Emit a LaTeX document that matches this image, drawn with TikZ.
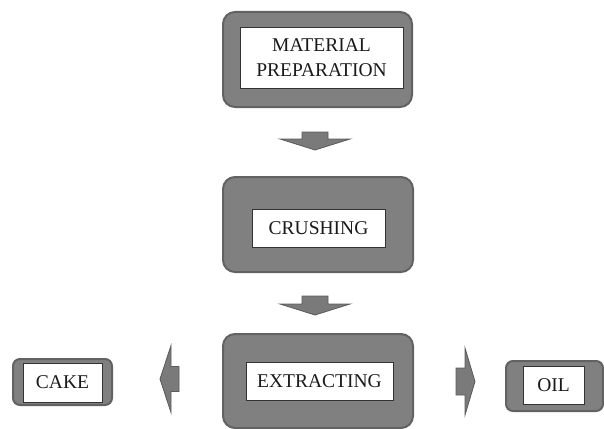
\documentclass[tikz,border=0pt]{standalone}
\usepackage{fontspec}
\setmainfont{Liberation Serif}
\usetikzlibrary{calc}
\definecolor{boxgray}{HTML}{808080}
\definecolor{boxedge}{HTML}{626262}
\definecolor{arrgray}{HTML}{7A7A7A}
\definecolor{arredge}{HTML}{5A5A5A}
\definecolor{txt}{HTML}{1A1A1A}
\begin{document}
\begin{tikzpicture}[x=1pt,y=-1pt,
  outerbox/.style={draw=boxedge, fill=boxgray, line width=2pt, rounded corners=12pt, inner sep=0pt},
  smallouter/.style={draw=boxedge, fill=boxgray, line width=2pt, rounded corners=7pt, inner sep=0pt},
  innerbox/.style={draw=black!80, fill=white, line width=0.8pt, inner sep=0pt, align=center,
    font=\fontsize{19.5}{24.5}\selectfont, text=txt},
  blockarrow/.style={fill=arrgray, draw=arredge, line width=0.8pt, line join=miter}]
\useasboundingbox (0,0) rectangle (604,428);
% outer boxes
\node[outerbox, minimum width=189pt, minimum height=95pt] (prepo) at (317.5,59.5) {};
\node[outerbox, minimum width=190pt, minimum height=95pt] (crusho) at (318,224.5) {};
\node[outerbox, minimum width=190pt, minimum height=94pt] (extro) at (318,381) {};
\node[smallouter, minimum width=99pt, minimum height=46pt] (cakeo) at (62.5,382) {};
\node[smallouter, minimum width=97pt, minimum height=50pt] (oilo) at (554.5,386) {};
% inner boxes
\node[innerbox, minimum width=163pt, minimum height=61pt] (prep) at (321.5,57.5) {MATERIAL\\PREPARATION};
\node[innerbox, minimum width=133pt, minimum height=38pt] (crush) at (318.5,228) {CRUSHING};
\node[innerbox, minimum width=147pt, minimum height=38pt] (extr) at (319.5,381) {EXTRACTING};
\node[innerbox, minimum width=79pt, minimum height=39pt] (cake) at (62.5,382.5) {CAKE};
\node[innerbox, minimum width=61pt, minimum height=38pt] (oil) at (553.5,385) {OIL};
% block arrows
\coordinate (a1) at (315,139);
\coordinate (a2) at (315,304);
\coordinate (a3) at (171,379);
\coordinate (a4) at (465,381.5);
\draw[blockarrow] ($(a1)+(-13,-7)$) -- ($(a1)+(13,-7)$) -- ($(a1)+(13,0)$) -- ($(a1)+(35,0)$)
  -- ($(a1)+(0,11)$) -- ($(a1)+(-35,0)$) -- ($(a1)+(-13,0)$) -- cycle;
\draw[blockarrow] ($(a2)+(-13,-8)$) -- ($(a2)+(13,-8)$) -- ($(a2)+(13,0)$) -- ($(a2)+(35,0)$)
  -- ($(a2)+(0,11)$) -- ($(a2)+(-35,0)$) -- ($(a2)+(-13,0)$) -- cycle;
\draw[blockarrow] ($(a3)+(8,-12.5)$) -- ($(a3)+(8,12.5)$) -- ($(a3)+(0,12.5)$) -- ($(a3)+(0,33.5)$)
  -- ($(a3)+(-11,0)$) -- ($(a3)+(0,-33.5)$) -- ($(a3)+(0,-12.5)$) -- cycle;
\draw[blockarrow] ($(a4)+(-9,-13.5)$) -- ($(a4)+(-9,13.5)$) -- ($(a4)+(0,13.5)$) -- ($(a4)+(0,33.5)$)
  -- ($(a4)+(10,0)$) -- ($(a4)+(0,-33.5)$) -- ($(a4)+(0,-13.5)$) -- cycle;
\end{tikzpicture}
\end{document}
